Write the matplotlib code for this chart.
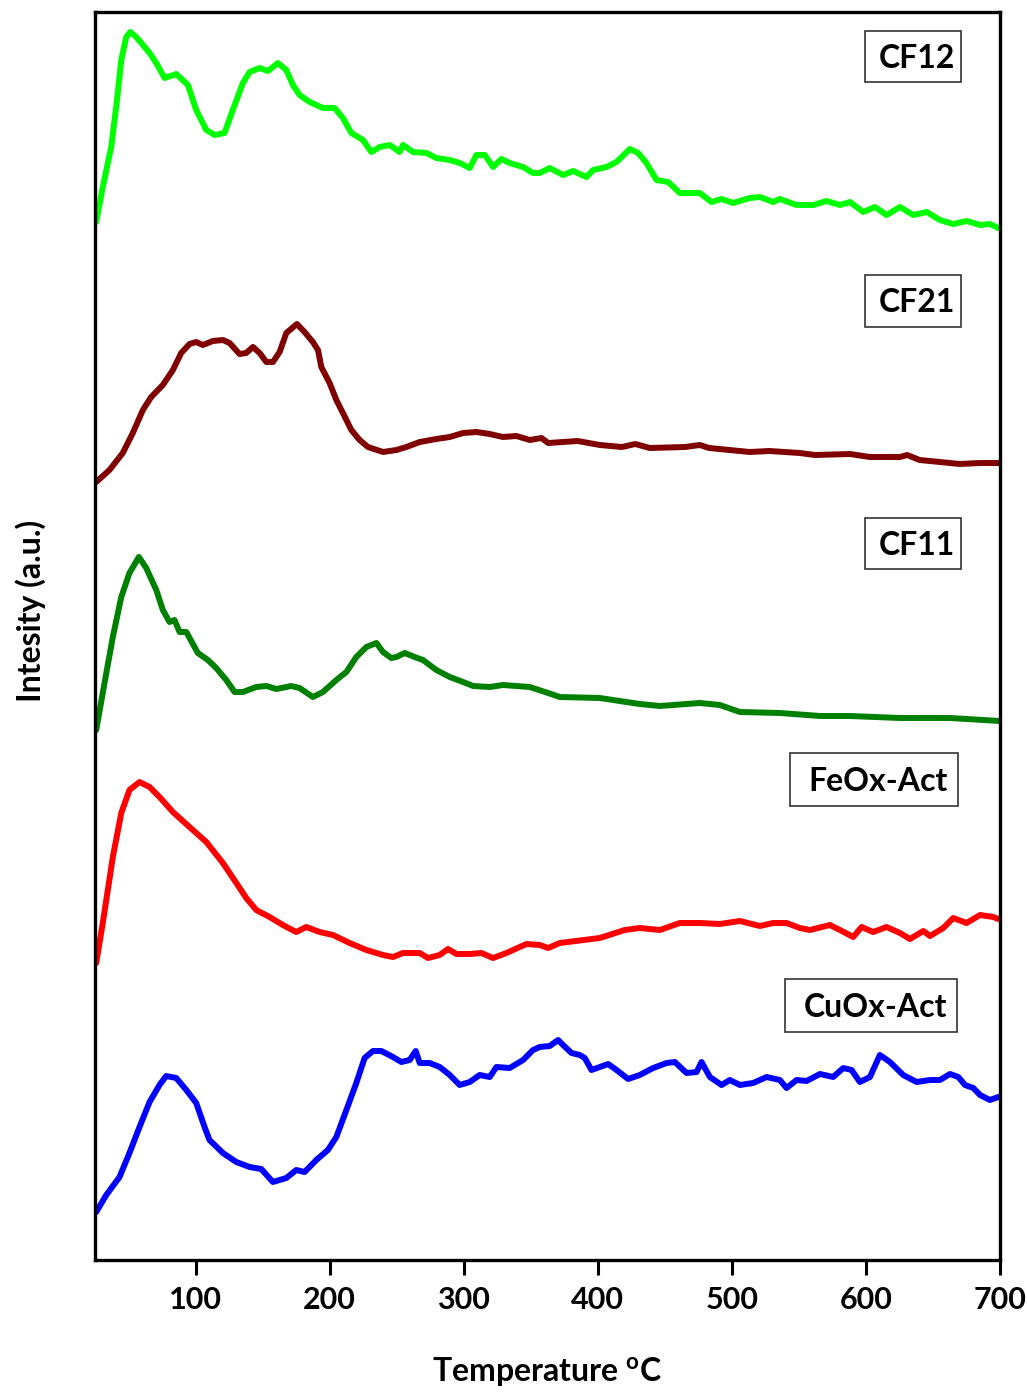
import numpy as np
import matplotlib
matplotlib.use('Agg')
import matplotlib.pyplot as plt
from matplotlib.patches import Rectangle

plt.rcParams['font.family'] = ['Lato', 'DejaVu Sans']
plt.rcParams['font.weight'] = 'bold'
plt.rcParams['mathtext.fontset'] = 'custom'
plt.rcParams['mathtext.bf'] = 'Lato:bold'
plt.rcParams['mathtext.rm'] = 'Lato:bold'

# CF12 (offset stack, a.u.)
cf12_t = [25.9, 30.8, 37.1, 40.8, 44.6, 48.3, 51.3, 55.7, 59.5, 65.7, 70.7, 76.9, 85.6, 94.3,
          100.5, 108, 114.2, 121.6, 127.8, 135.3, 140.3, 147.8, 154, 161.4, 167.7, 172.6, 177.6,
          185.1, 195, 203.7, 209.9, 216.2, 224.9, 231.1, 237.3, 244.8, 252.2, 254.7, 262.2, 272.2,
          279.6, 289.6, 297, 304.5, 309.5, 315.7, 321.9, 328.1, 334.3, 344.3, 351.7, 356.7, 364.2,
          374.1, 381.6, 391.6, 396.5, 406.5, 414, 423.9, 430.1, 436.3, 443.8, 452.5, 461.2, 476.1,
          484.8, 492.3, 501, 513.4, 520.9, 530.8, 535.8, 548.3, 560.7, 570.7, 580.6, 588.1, 598,
          606.7, 615.4, 625.4, 635.3, 645.3, 655.2, 665.1, 675.1, 685.1, 692.5, 698.7]
cf12_i = [1038, 1073, 1113, 1153, 1200, 1223, 1228, 1223, 1217, 1207, 1197, 1182, 1186, 1175,
          1150, 1130, 1125, 1127, 1150, 1177, 1188, 1192, 1189, 1197, 1190, 1175, 1165,
          1158, 1152, 1152, 1142, 1127, 1120, 1108, 1113, 1115, 1108, 1115, 1108, 1107,
          1102, 1100, 1097, 1092, 1105, 1105, 1093, 1101, 1097, 1093, 1087, 1087, 1092,
          1085, 1089, 1083, 1090, 1093, 1098, 1111, 1107, 1097, 1080, 1078, 1067, 1067,
          1058, 1061, 1057, 1062, 1063, 1058, 1061, 1055, 1055, 1059, 1055, 1058, 1048,
          1053, 1045, 1053, 1045, 1048, 1040, 1036, 1039, 1035, 1036, 1032]

# CF21
cf21_t = [25.9, 35.8, 45.7, 53.2, 60.7, 66.9, 75.6, 83.1, 89.3, 95.5, 100.5, 105.4, 112.9, 120.4,
          125.4, 132.8, 137.8, 142.8, 147.8, 152.8, 157.7, 162.7, 167.7, 175.6, 181.3, 187.5,
          191.3, 193.8, 200, 205, 209.9, 216.2, 222.4, 228.6, 239.8, 249.8, 257.2, 267.2, 279.6,
          289.6, 299.5, 309.5, 319.4, 329.3, 339.3, 349.3, 358, 363, 385, 401.5, 418, 428, 438.8,
          465, 476.1, 483, 513.4, 528, 550.7, 562, 588.1, 603, 625.4, 630.8, 640, 655.2, 670, 685,
          700]
cf21_i = [778, 790, 807, 827, 850, 863, 875, 890, 907, 916, 918, 915, 919, 920,
          917, 906, 907, 913, 907, 898, 898, 908, 927, 936, 928, 918,
          910, 893, 877, 860, 847, 830, 820, 813, 808, 810, 813, 818, 821,
          823, 827, 828, 826, 823, 824, 820, 822, 817, 819, 815, 813, 816, 812,
          813, 815, 812, 808, 809, 807, 805, 806, 803, 803, 805, 800, 798, 796, 797,
          797]

# CF11
cf11_t = [25.9, 32.1, 38.3, 44.6, 50.7, 57.7, 63.2, 70.7, 75.6, 80.6, 84.3, 88.1, 93.1, 101.7,
          109.2, 115.4, 122.9, 129.1, 135.3, 145.3, 152.8, 160.2, 171.4, 177.6, 187.5, 195, 205,
          212.5, 219.9, 227.4, 234.9, 239.8, 246, 249.8, 256, 263.4, 269.6, 279.6, 289.6, 299.5,
          307, 319.4, 329.3, 339.3, 349.3, 363, 371.6, 401.5, 431.3, 446.3, 476.1, 491, 506,
          535.8, 565.7, 588.1, 625.4, 662.7, 700]
cf11_i = [530, 577, 623, 663, 687, 703, 692, 670, 650, 638, 640, 628, 628, 607,
          600, 592, 580, 568, 568, 573, 574, 571, 574, 572, 563, 568, 580,
          588, 603, 613, 617, 608, 602, 603, 607, 603, 600, 590, 583, 578,
          574, 573, 575, 574, 573, 567, 563, 562, 556, 554, 557, 555, 548,
          547, 544, 544, 542, 542, 539]

# FeOx-Act
feox_t = [25.9, 30.8, 38.3, 44.6, 50.7, 58.2, 65.7, 73.1, 83.1, 95.5, 108, 120.4, 130.4, 137.8,
          145.3, 155.2, 165.1, 175.1, 182.6, 192.5, 202.5, 214.9, 227.4, 239.8, 247.3, 254.7,
          267.2, 273.4, 282.1, 288.3, 294.6, 304.5, 313.2, 321.9, 331.9, 336.8, 346.8, 356.7,
          363, 371.6, 401.5, 420.1, 431.3, 446.3, 461.2, 476.1, 491, 506, 520.9, 530.8, 540.8,
          550.7, 558.2, 573.1, 580.6, 590.5, 596.8, 605.4, 615.4, 625.4, 632.8, 642.8, 647.8,
          657.7, 665.1, 675.1, 685.1, 695, 698.7]
feox_i = [297, 337, 403, 447, 470, 478, 473, 463, 448, 433, 418, 397, 377, 362,
          350, 343, 335, 328, 333, 328, 325, 317, 310, 305, 303, 307,
          307, 302, 305, 311, 306, 306, 307, 302, 307, 310, 316, 315,
          312, 317, 322, 330, 332, 330, 337, 337, 336, 339, 334, 337, 337,
          332, 330, 335, 330, 323, 333, 328, 333, 327, 321, 329, 324,
          332, 342, 337, 345, 343, 341]

# CuOx-Act
cuox_t = [25.9, 33.4, 43.3, 50.7, 58.2, 65.7, 73.1, 78.1, 85.6, 93.1, 100.5, 106.7, 110.4, 120.4,
          130.4, 140.3, 149, 157.7, 167.7, 175.1, 181.3, 190.1, 198.7, 205, 212.5, 219.9, 226.1,
          232.3, 238.6, 247.2, 253.5, 259.7, 264.2, 267.2, 274.6, 282.1, 289.6, 297, 304.5, 311.9,
          319.4, 324.4, 334.3, 344.3, 351.7, 356.7, 364.2, 370.4, 374.1, 380.4, 386.6, 390.3,
          395.3, 401.5, 407.7, 414, 422.6, 431.3, 441.3, 451.3, 457.5, 466.2, 473.7, 477.4, 483.6,
          492.3, 498.5, 506, 515.9, 525.9, 535.8, 540.8, 548.3, 555.7, 565.7, 575.6, 583.1, 589.3,
          595.5, 603, 610.4, 617.9, 627.8, 637.8, 647.8, 655.2, 662.7, 668.9, 673.9, 680.1, 685.1,
          692.5, 698.7]
cuox_i = [48, 65, 83, 107, 133, 158, 175, 184, 182, 170, 157, 133, 120, 107,
          98, 93, 91, 78, 82, 90, 88, 100, 110, 123, 150, 177, 202,
          209, 209, 203, 198, 200, 209, 197, 197, 193, 185, 175, 178, 185,
          183, 193, 192, 200, 210, 213, 214, 220, 215, 207, 205, 202,
          190, 193, 196, 190, 181, 185, 192, 197, 198, 187, 188, 198, 183,
          175, 180, 175, 177, 183, 180, 172, 180, 179, 186, 183, 192, 190,
          178, 183, 205, 198, 185, 178, 180, 180, 186, 183, 175, 172, 165,
          160, 163]

names = ['CF12', 'CF21', 'CF11', 'FeOx-Act', 'CuOx-Act']
colors = ['#00ff00', '#800000', '#008000', '#ff0000', '#0000ff']
series = [(cf12_t, cf12_i), (cf21_t, cf21_i), (cf11_t, cf11_i), (feox_t, feox_i), (cuox_t, cuox_i)]
xticks = [100, 200, 300, 400, 500, 600, 700]

fig = plt.figure(figsize=(10.27, 13.94), dpi=100)
ax = fig.add_axes([95 / 1027, 1 - 1260 / 1394, 905 / 1027, 1248 / 1394])

for (t, i), c in zip(series, colors):
    ax.plot(t, i, color=c, lw=4.3, solid_joinstyle='round', solid_capstyle='round')

ax.set_xlim(25, 700)
ax.set_ylim(0, 1248)
ax.set_xticks(xticks)
ax.set_yticks([])
for s in ax.spines.values():
    s.set_linewidth(2.4)
ax.tick_params(axis='x', direction='out', length=11, width=2.2, pad=8,
               labelsize=22, labelfontfamily=['Liberation Sans Narrow', 'Lato'])

ax.set_xlabel(r'Temperature $^{\mathbf{o}}$C', fontsize=23, fontweight='bold')
ax.xaxis.set_label_coords(0.5, -0.076)
ax.set_ylabel('Intesity (a.u.)', fontsize=23, fontweight='bold')
ax.yaxis.set_label_coords(-0.054, 0.52)

# label boxes (centre T, centre intensity, width, height)
boxes = [(635, 1204, 72, 51), (635, 959, 72, 52), (635, 717, 72, 51),
         (606, 481, 125, 53), (604, 255, 128, 53)]
for name, (bx, by, bw, bh) in zip(names, boxes):
    ax.add_patch(Rectangle((bx - bw / 2, by - bh / 2), bw, bh, fill=False,
                           ec='#333333', lw=1.2, zorder=5))
    ax.text(bx + 3, by - 2, name, ha='center', va='center', fontsize=23,
            fontweight='bold', zorder=6)

fig.savefig('out.png', dpi=100)
